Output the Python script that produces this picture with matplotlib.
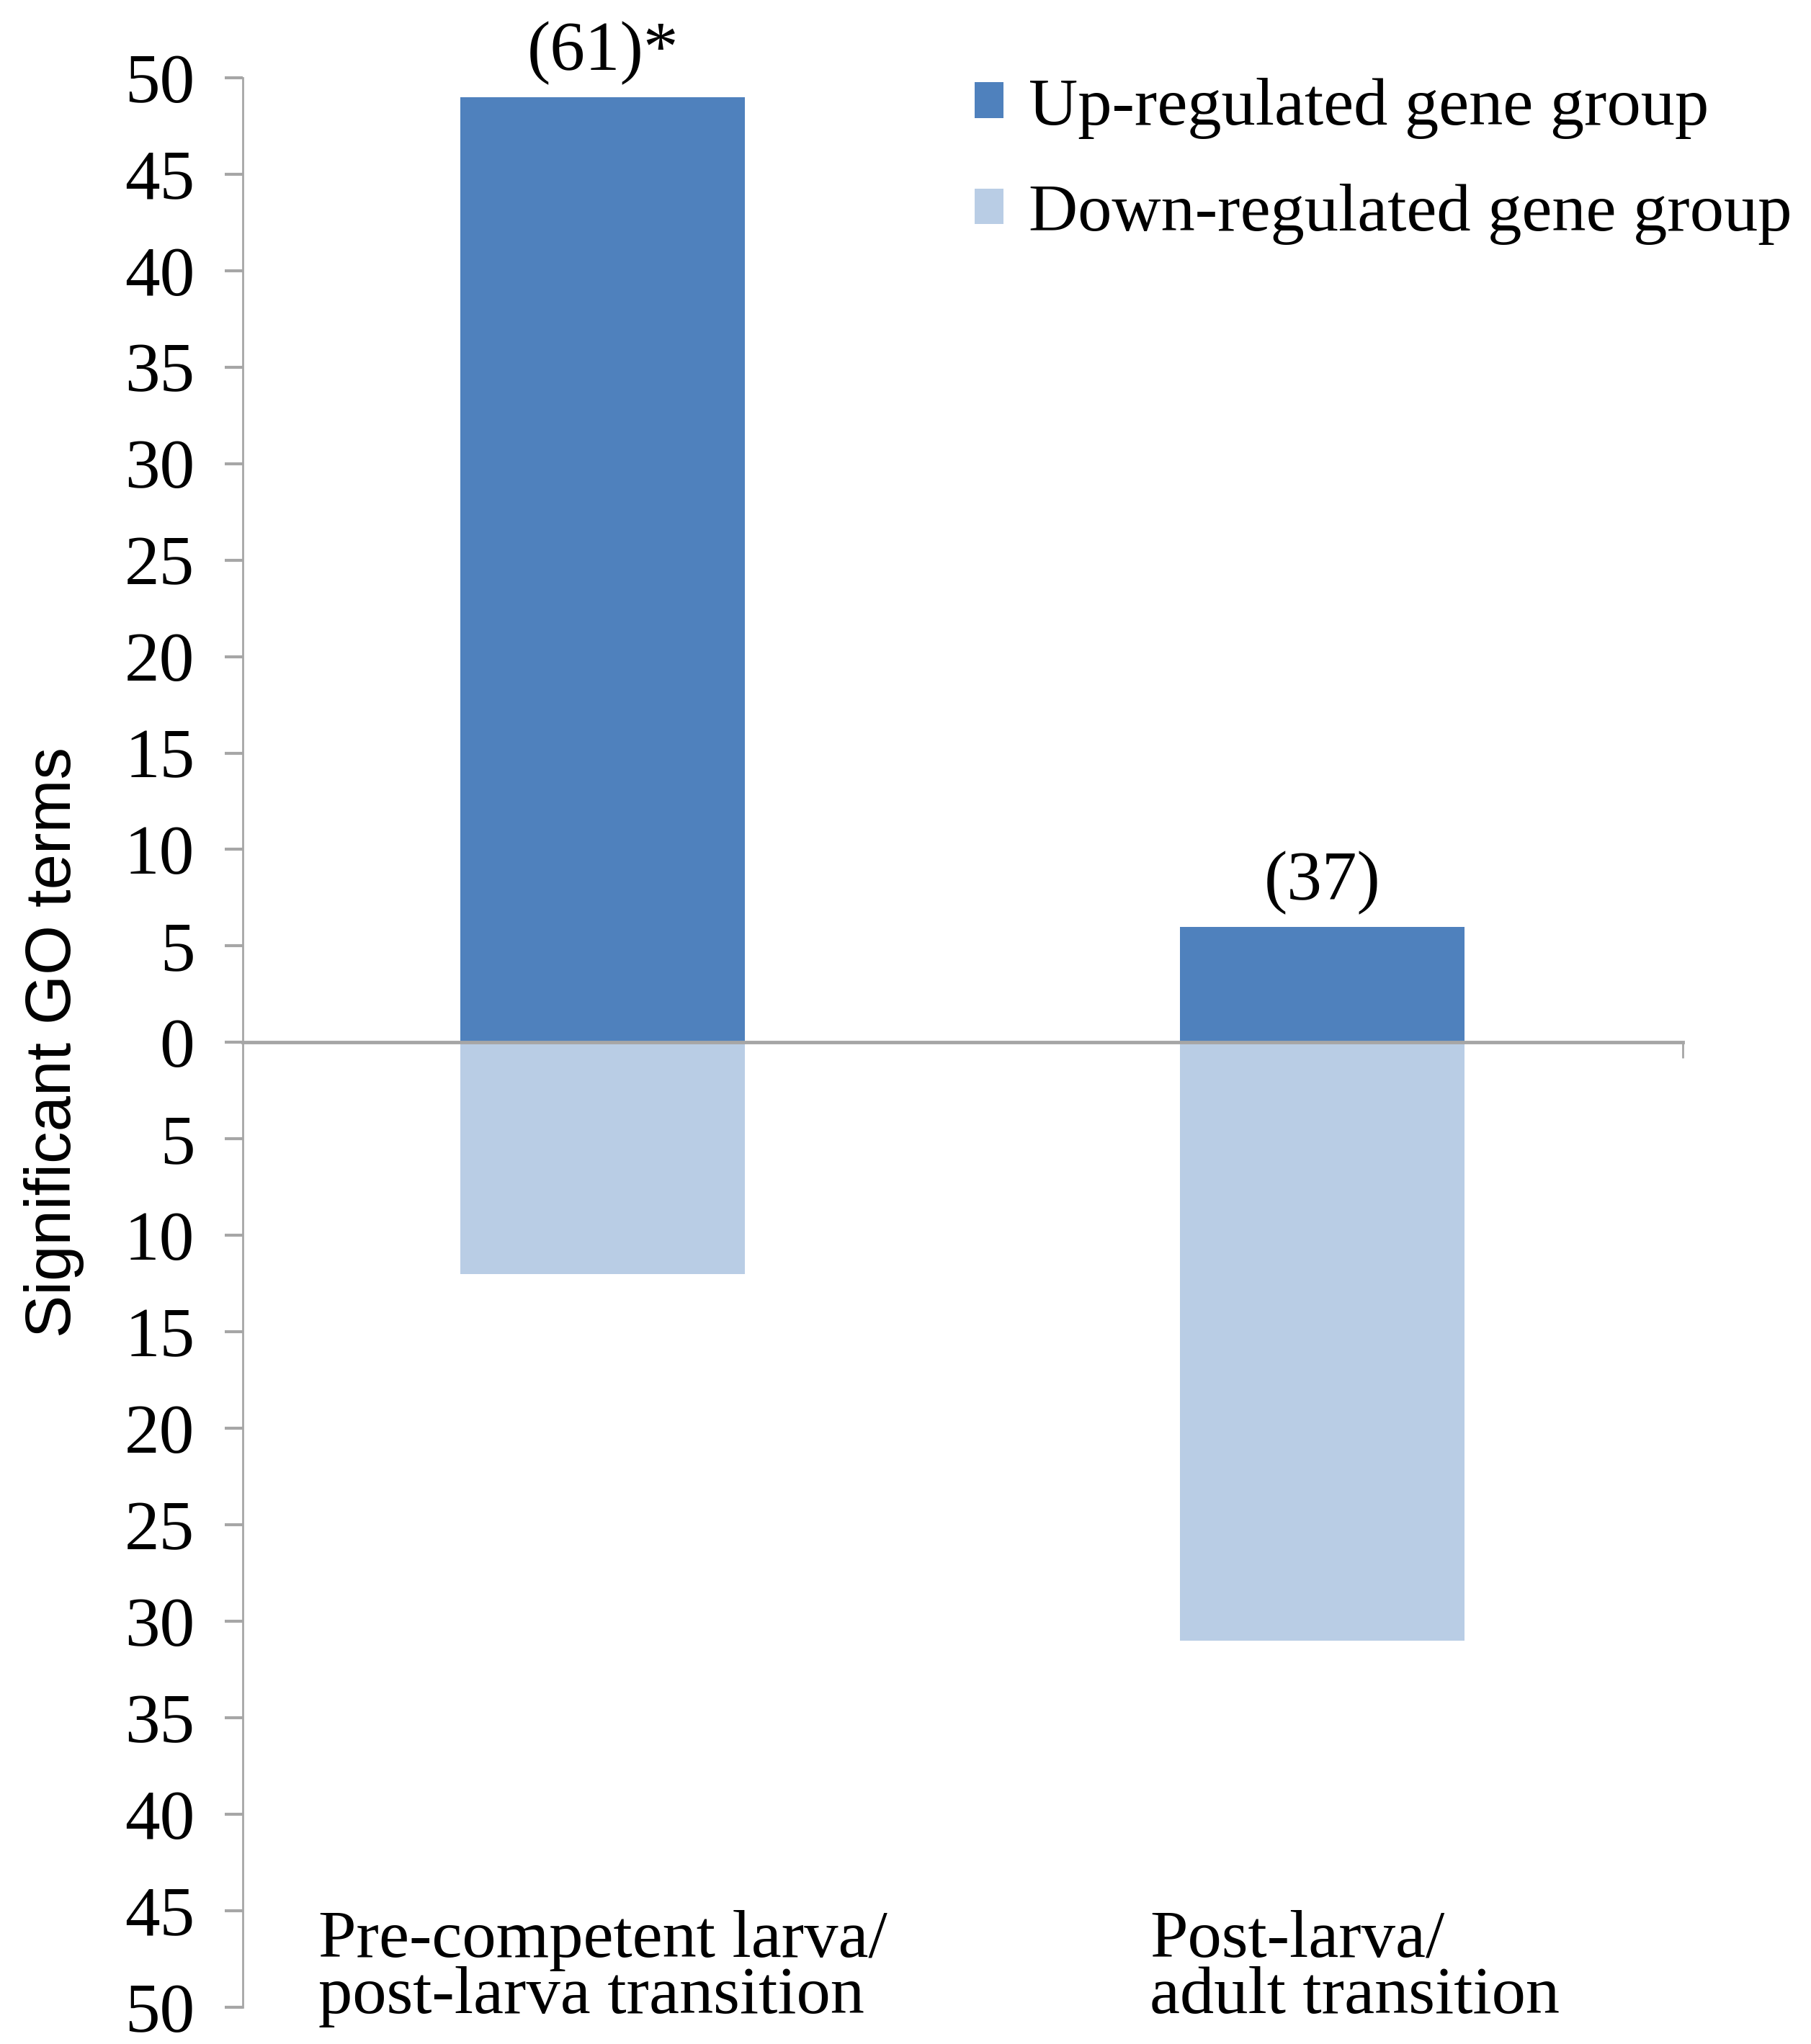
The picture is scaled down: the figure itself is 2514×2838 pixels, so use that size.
import matplotlib.pyplot as plt
import numpy as np

# values
categories = ['Pre-competent larva/\npost-larva transition', 'Post-larva/\nadult transition']
up_terms = [49, 6]
down_terms = [12, 31]
totals = ['(61)*', '(37)']
y_ticks = list(range(-50, 51, 5))

up_color = '#4F81BD'
down_color = '#B9CDE5'
axis_gray = '#A6A6A6'

fig = plt.figure(figsize=(25.14, 28.38), dpi=100)
ax = fig.add_axes([0.134, 0.018, 0.795, 0.944])

x = np.arange(len(categories))
ax.bar(x, up_terms, width=0.395, color=up_color, label='Up-regulated gene group', zorder=2)
ax.bar(x, [-v for v in down_terms], width=0.395, color=down_color,
       label='Down-regulated gene group', zorder=2)

ax.set_xlim(-0.5, 1.5)
ax.set_ylim(-50, 50)

# axes styling, excel-ish
for s in ['top', 'right']:
    ax.spines[s].set_visible(False)
ax.spines['left'].set_color(axis_gray)
ax.spines['left'].set_linewidth(2)
ax.spines['bottom'].set_position(('data', 0))
ax.spines['bottom'].set_color(axis_gray)
ax.spines['bottom'].set_linewidth(3.5)
ax.spines['bottom'].set_zorder(3)

ax.set_yticks(y_ticks)
ax.set_yticklabels([str(abs(v)) for v in y_ticks], family='Liberation Serif', fontsize=70)
ax.tick_params(axis='y', direction='out', length=18, width=3, color=axis_gray, pad=30)
ax.set_xticks([1.5])
ax.set_xticklabels([''])
ax.tick_params(axis='x', direction='out', length=16, width=2, color=axis_gray)

ax.set_ylabel('Significant GO terms', family='Liberation Sans', fontsize=64)
ax.yaxis.set_label_coords(-0.11, 0.5)

# totals above the up bars
for xi, v, t in zip(x, up_terms, totals):
    ax.annotate(t, (xi, v), xytext=(0, 12), textcoords='offset points',
                ha='center', va='bottom', family='Liberation Serif', fontsize=70)

# category labels sit at the bottom of the plot
for xi, c in zip(x, categories):
    ax.text(xi + 0.045 * xi, -48, c, ha='center', va='center', multialignment='left',
            family='Liberation Serif', fontsize=68, linespacing=0.9)

ax.legend(loc='upper left', bbox_to_anchor=(0.538, 0.962), bbox_transform=fig.transFigure,
          frameon=False, prop={'family': 'Liberation Serif', 'size': 68},
          handlelength=0.43, handleheight=0.43, handletextpad=0.37,
          labelspacing=0.66, borderpad=0, borderaxespad=0)

fig.savefig('out.png', dpi=100)
